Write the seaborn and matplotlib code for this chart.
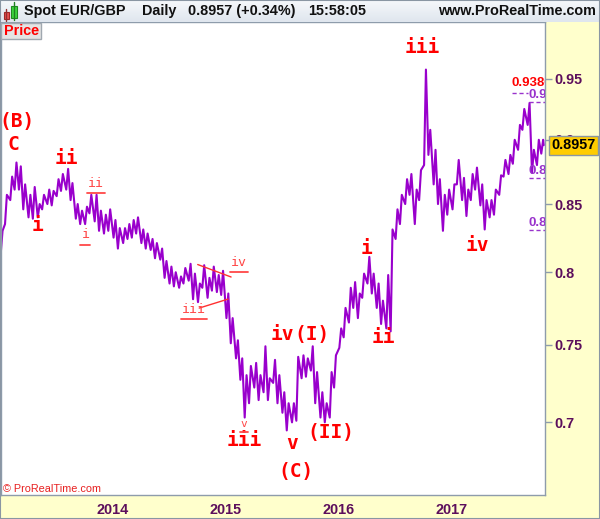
import numpy as np
import pandas as pd
import seaborn as sns
import matplotlib.pyplot as plt
import matplotlib.dates as mdates
import matplotlib.transforms as mtransforms
from matplotlib.patches import Rectangle
from matplotlib.lines import Line2D
from matplotlib.ticker import NullLocator, NullFormatter

# EUR/GBP, half-month periods Jan 2013 .. Oct 2017: low and high
period_start = pd.date_range('2013-01-01', periods=116, freq='SMS')
lows = [0.813, 0.835, 0.853, 0.861, 0.861, 0.846, 0.840, 0.839, 0.840, 0.846,
        0.850, 0.849, 0.856, 0.860, 0.861, 0.853, 0.839, 0.835, 0.835, 0.843,
        0.837, 0.830, 0.828, 0.830, 0.825, 0.817, 0.821, 0.824, 0.825, 0.828,
        0.821, 0.817, 0.816, 0.810, 0.809, 0.796, 0.792, 0.790, 0.789, 0.792,
        0.794, 0.781, 0.779, 0.789, 0.782, 0.787, 0.786, 0.784, 0.768, 0.751,
        0.741, 0.727, 0.703, 0.712, 0.722, 0.714, 0.719, 0.714, 0.725, 0.712,
        0.706, 0.695, 0.700, 0.701, 0.728, 0.729, 0.733, 0.712, 0.703, 0.700,
        0.703, 0.722, 0.748, 0.755, 0.765, 0.775, 0.768, 0.782, 0.792, 0.785,
        0.775, 0.764, 0.761, 0.759, 0.824, 0.835, 0.850, 0.857, 0.835, 0.853,
        0.880, 0.888, 0.865, 0.850, 0.830, 0.842, 0.846, 0.865, 0.853, 0.841,
        0.853, 0.861, 0.849, 0.831, 0.840, 0.842, 0.857, 0.871, 0.873, 0.881,
        0.892, 0.908, 0.912, 0.874, 0.880, 0.889]
highs = [0.830, 0.857, 0.871, 0.882, 0.879, 0.865, 0.857, 0.863, 0.850, 0.857,
         0.861, 0.860, 0.869, 0.873, 0.877, 0.866, 0.850, 0.845, 0.848, 0.857,
         0.857, 0.845, 0.842, 0.846, 0.838, 0.832, 0.832, 0.835, 0.838, 0.840,
         0.831, 0.828, 0.824, 0.821, 0.817, 0.808, 0.804, 0.800, 0.797, 0.803,
         0.806, 0.799, 0.792, 0.805, 0.796, 0.804, 0.798, 0.801, 0.785, 0.768,
         0.753, 0.741, 0.730, 0.736, 0.738, 0.730, 0.749, 0.728, 0.740, 0.730,
         0.719, 0.712, 0.712, 0.742, 0.743, 0.741, 0.749, 0.732, 0.719, 0.712,
         0.732, 0.743, 0.761, 0.775, 0.789, 0.793, 0.785, 0.799, 0.811, 0.799,
         0.792, 0.780, 0.798, 0.831, 0.846, 0.857, 0.869, 0.873, 0.861, 0.876,
         0.958, 0.908, 0.892, 0.869, 0.857, 0.861, 0.865, 0.884, 0.870, 0.861,
         0.873, 0.878, 0.865, 0.853, 0.853, 0.861, 0.872, 0.884, 0.888, 0.900,
         0.912, 0.925, 0.930, 0.892, 0.900, 0.900]
last_date = pd.Timestamp('2017-10-27')
last_price = 0.8957

# Elliott wave labels: text, date, price
big_labels = [('(B)', '2013-02-28', 0.915), ('C', '2013-02-15', 0.896),
              ('ii', '2013-08-05', 0.885), ('i', '2013-05-04', 0.834),
              ('iii', '2015-03-03', 0.689), ('iv', '2015-07-04', 0.757),
              ('(I)', '2015-10-09', 0.757), ('v', '2015-08-05', 0.687),
              ('(C)', '2015-08-18', 0.670), ('(II)', '2015-12-09', 0.694),
              ('i', '2016-04-03', 0.817), ('ii', '2016-05-28', 0.755),
              ('iii', '2016-09-28', 0.977), ('iv', '2017-03-25', 0.819)]
small_labels = [('ii', '2013-11-10', 0.866, 9.5), ('i', '2013-10-06', 0.827, 9.5),
                ('iii', '2014-09-22', 0.774, 9.5), ('iv', '2015-02-15', 0.807, 9.5),
                ('v', '2015-03-03', 0.699, 8)]

# triangle trendlines
tri_upper_dates = pd.to_datetime(['2014-10-04', '2015-01-20'])
tri_upper_prices = [0.8055, 0.7966]
tri_lower_dates = pd.to_datetime(['2014-10-09', '2015-01-10'])
tri_lower_prices = [0.7749, 0.7811]

# target levels at the right edge
red_level = 0.938
target_levels = [0.9308, 0.8700, 0.8306]

year_ticks = pd.to_datetime(['2014-01-01', '2015-01-01', '2016-01-01', '2017-01-01'])
year_labels = ['2014', '2015', '2016', '2017']
price_ticks = [0.7, 0.75, 0.8, 0.85, 0.9, 0.95]
price_labels = ['0.7', '0.75', '0.8', '0.85', '0.9', '0.95']

# build the line: low then high inside each half month
dates, prices = [], []
for s, lo, hi in zip(period_start, lows, highs):
    dates += [s + pd.Timedelta(days=4), s + pd.Timedelta(days=10)]
    prices += [lo, hi]
dates.append(last_date)
prices.append(last_price)
df = pd.DataFrame({'date': dates, 'price': prices})

sns.set_style('white')
plt.rcParams['font.family'] = ['Liberation Sans', 'DejaVu Sans']

purple_txt = '#5c0f5c'
grey = '#8e9cab'
red = '#ff0000'

fig = plt.figure(figsize=(6, 5.19), dpi=100, facecolor='#ffffcc')
ax = fig.add_axes([1 / 600, 24 / 519, 544 / 600, 473 / 519])
ax.set_facecolor('white')

sns.lineplot(data=df, x='date', y='price', ax=ax, color='#9900cc',
             linewidth=1.5, estimator=None)

ax.set_yscale('log')
ax.set_ylim(0.6562, 0.9994)
ax.set_xlim(pd.Timestamp('2013-01-06'), pd.Timestamp('2017-10-31'))
ax.set_xlabel('')
ax.set_ylabel('')

ax.yaxis.tick_right()
ax.yaxis.set_minor_locator(NullLocator())
ax.yaxis.set_minor_formatter(NullFormatter())
ax.set_yticks(price_ticks, labels=price_labels, fontweight='bold')
ax.set_xticks(year_ticks, labels=year_labels, fontweight='bold')
ax.tick_params(axis='y', length=5, width=1, color=grey, pad=2,
               labelsize=10.4, labelcolor=purple_txt, right=True, left=False)
ax.tick_params(axis='x', length=4, width=1, color=grey, pad=2,
               labelsize=10.4, labelcolor=purple_txt)
for sp in ax.spines.values():
    sp.set_color(grey)
    sp.set_linewidth(1)

# triangle
ax.plot(tri_upper_dates, tri_upper_prices, color='#ff3030', lw=1)
ax.plot(tri_lower_dates, tri_lower_prices, color='#ff3030', lw=1)

# wave labels
for txt, d, p in big_labels:
    ax.text(pd.Timestamp(d), p, txt, color=red, fontsize=14, fontweight='bold',
            family='DejaVu Sans Mono', ha='center', va='center')
for txt, d, p, fs in small_labels:
    ax.text(pd.Timestamp(d), p, txt, color='#ff4848', fontsize=fs,
            family='DejaVu Sans Mono', ha='center', va='center')
    # underline drawn in pixels below the label
    px, py = ax.transData.transform((mdates.date2num(pd.Timestamp(d)), p))
    half = len(txt) * fs * 0.6 / 72 * fig.dpi / 2 + 1
    drop = fs * 0.75 / 72 * fig.dpi
    fig.add_artist(Line2D([px - half, px + half], [py - drop, py - drop],
                          transform=mtransforms.IdentityTransform(),
                          color='#ff4848', lw=1.3))

# target levels
ax.hlines(red_level, pd.Timestamp('2017-07-16'), pd.Timestamp('2017-09-06'),
          color='#9933cc', lw=1, linestyles=(0, (3, 2)))
ax.text(pd.Timestamp('2017-07-16'), 0.9465, '0.9380', color=red, fontsize=9.5,
        fontweight='bold', va='center', ha='left', clip_on=True)
for lvl in target_levels:
    ax.hlines(lvl, pd.Timestamp('2017-09-09'), pd.Timestamp('2017-10-31'),
              color='#9933cc', lw=1, linestyles=(0, (3, 2)))
    ax.text(pd.Timestamp('2017-09-09'), lvl * 1.0065, '%.4f' % lvl, color='#9933cc',
            fontsize=9.5, fontweight='bold', va='center', ha='left', clip_on=True)

# current price box
trans = mtransforms.blended_transform_factory(ax.transAxes, ax.transData)
ax.text(1.012, last_price, '%.4f' % last_price, transform=trans, fontsize=10.4,
        fontweight='bold', color='black', va='center', ha='left', clip_on=False,
        zorder=10, bbox=dict(boxstyle='square,pad=0.18', fc='#ffcc00', ec='#8a96a3', lw=1))

# header bar
hdr = fig.add_axes([0, 1 - 22 / 519, 1, 22 / 519])
grad = np.linspace(0, 1, 22).reshape(-1, 1)
hdr.imshow(grad, aspect='auto', extent=[0, 600, 22, 0],
           cmap=plt.matplotlib.colors.LinearSegmentedColormap.from_list('h', ['#f6f8fb', '#dfe6ee']))
hdr.set_xlim(0, 600)
hdr.set_ylim(22, 0)
hdr.axis('off')
hdr.plot([6, 6], [9, 21], color='#903030', lw=1)
hdr.add_patch(Rectangle((3.5, 12.5), 5.5, 7, fc='#ec5050', ec='#a02828', lw=0.8))
hdr.plot([14, 14], [2, 20], color='#208020', lw=1)
hdr.add_patch(Rectangle((11, 6), 6, 12.5, fc='#3fd63f', ec='#1f8a1f', lw=0.8))
hy = 1 - 11 / 519
for x, s in [(24, 'Spot EUR/GBP'), (142, 'Daily'), (188, '0.8957 (+0.34%)'), (308, '15:58:05')]:
    fig.text(x / 600, hy, s, fontsize=10.4, fontweight='bold', va='center', ha='left', color='#111111')
fig.text(596 / 600, hy, 'www.ProRealTime.com', fontsize=10.4, fontweight='bold',
         va='center', ha='right', color='#111111')

# "Price" tag and copyright
fig.patches.append(Rectangle((1 / 600, 1 - 39 / 519), 40 / 600, 16 / 519, transform=fig.transFigure,
                             fc='#e4e4e4', ec='#a0a8b0', lw=1, zorder=5))
fig.text(4 / 600, 1 - 31 / 519, 'Price', color=red, fontsize=10.4, fontweight='bold',
         va='center', ha='left', zorder=6)
fig.text(3 / 600, 1 - 489 / 519, '\u00a9 ProRealTime.com', color='#e82020', fontsize=7.8,
         va='center', ha='left')
fig.patches.append(Rectangle((0, 0), 1, 1, transform=fig.transFigure, fill=False,
                             ec='#8a96a3', lw=1.5))

fig.savefig('out.png', dpi=100)
